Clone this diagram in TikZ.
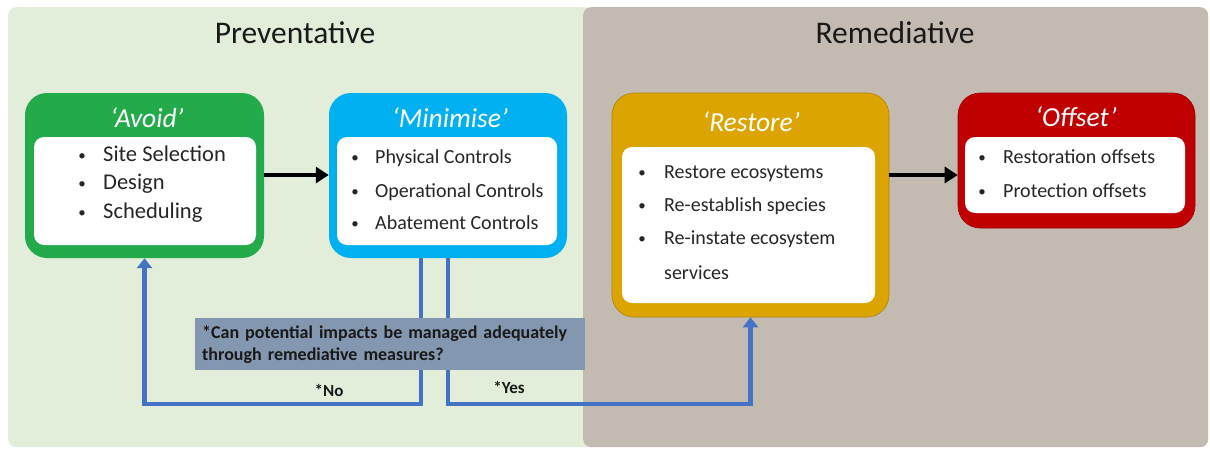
\documentclass[tikz,border=0pt]{standalone}
\usepackage{fontspec}
\setmainfont{Carlito}
\usetikzlibrary{arrows.meta,calc}
\definecolor{avoidc}{HTML}{22AA4B}
\definecolor{minc}{HTML}{00B0F0}
\definecolor{restc}{HTML}{DCA400}
\definecolor{offc}{HTML}{C00000}
\definecolor{prevbg}{HTML}{E2EEDA}
\definecolor{remebg}{HTML}{C3BAB1}
\definecolor{linec}{HTML}{4472C4}
\definecolor{qc}{HTML}{8497B0}
\definecolor{txt}{HTML}{262626}
\begin{document}
\begin{tikzpicture}[x=1pt,y=-1pt,
  panel/.style={rounded corners=8pt, inner sep=0pt, anchor=north west},
  paneltitle/.style={inner sep=0pt, font=\fontsize{31.5}{36}\selectfont, text=black!90},
  outerbox/.style={rounded corners=22pt, inner sep=0pt},
  innerbox/.style={fill=white, rounded corners=10pt, inner sep=0pt},
  boxtitle/.style={inner sep=0pt, text=white, font=\fontsize{27.5}{32}\selectfont\itshape},
  itm/.style={anchor=west, inner sep=0pt, text=txt, font=\fontsize{20}{24}\selectfont, text height=14pt, text depth=4pt},
  bigitm/.style={itm, font=\fontsize{22.5}{27}\selectfont, text height=15pt, text depth=4pt},
  bul/.style={inner sep=0pt, text=txt, font=\fontsize{15}{18}\selectfont, text height=11pt, text depth=3pt},
  blackarrow/.style={line width=4.5pt, -{Triangle[length=13pt,width=16pt]}},
  bluearrow/.style={draw=linec, line width=4.5pt, -{Triangle[length=10pt,width=15pt]}},
  qbox/.style={fill=qc, inner sep=7pt, text width=376pt, align=left, minimum height=52pt, font=\fontsize{18}{22}\selectfont\bfseries, text=black!90},
  lbl/.style={inner sep=0pt, font=\fontsize{17}{20}\selectfont\bfseries, text=black!90}
]
\useasboundingbox (0,0) rectangle (1210,450);
\fill[white] (0,0) rectangle (1210,450);
% panels
\node[panel, fill=prevbg, minimum width=585pt, minimum height=440pt] (prev) at (8,7) {};
\node[panel, fill=remebg, minimum width=625pt, minimum height=440pt] (reme) at (583,7) {};
\node[paneltitle] (prevt) at (295,33) {Preventative};
\node[paneltitle] (remet) at (895,33) {Remediative};
% Avoid
\node[outerbox, fill=avoidc, minimum width=239pt, minimum height=165pt] (avoid) at (144.5,175.5) {};
\node[innerbox, minimum width=222pt, minimum height=108pt] (avoidin) at (145,191) {};
\node[boxtitle] (avoidt) at (147,118) {‘Avoid’};
\node[bul] (ab1) at (82,156) {•};
\node[bul] (ab2) at (82,184) {•};
\node[bul] (ab3) at (82,213) {•};
\node[bigitm] (a1) at (103,156) {Site Selection};
\node[bigitm] (a2) at (103,184) {Design};
\node[bigitm] (a3) at (103,213) {Scheduling};
% Minimise
\node[outerbox, fill=minc, minimum width=238pt, minimum height=165pt] (minimise) at (448,175.5) {};
\node[innerbox, minimum width=220pt, minimum height=108pt] (minin) at (447,191) {};
\node[boxtitle] (mint) at (450,118) {‘Minimise’};
\node[bul] (mb1) at (355,158) {•};
\node[bul] (mb2) at (355,192) {•};
\node[bul] (mb3) at (355,224) {•};
\node[itm] (m1) at (375,158) {Physical Controls};
\node[itm] (m2) at (375,192) {Operational Controls};
\node[itm] (m3) at (375,224) {Abatement Controls};
% Restore
\node[outerbox, fill=restc, draw=restc!80!black, line width=0.6pt, minimum width=277pt, minimum height=224pt] (restore) at (750.5,205) {};
\node[innerbox, minimum width=253pt, minimum height=156pt] (restin) at (748.5,225) {};
\node[boxtitle] (restt) at (751,122) {‘Restore’};
\node[bul] (rb1) at (642,173) {•};
\node[bul] (rb2) at (642,206) {•};
\node[bul] (rb3) at (642,239) {•};
\node[itm] (r1) at (664,173) {Restore ecosystems};
\node[itm] (r2) at (664,206) {Re-establish species};
\node[itm] (r3) at (664,239) {Re-instate ecosystem};
\node[itm] (r4) at (664,274) {services};
% Offset
\node[outerbox, fill=offc, draw=offc!80!black, line width=0.6pt, minimum width=237pt, minimum height=135pt] (offset) at (1076.5,160.5) {};
\node[innerbox, minimum width=220pt, minimum height=76pt] (offin) at (1075,175) {};
\node[boxtitle] (offt) at (1076,117) {‘Offset’};
\node[bul] (ob1) at (982,158) {•};
\node[bul] (ob2) at (982,192) {•};
\node[itm] (o1) at (1003,158) {Restoration offsets};
\node[itm] (o2) at (1003,192) {Protection offsets};
% black arrows
\coordinate (arrowy) at (0,175);
\draw[blackarrow] (avoid.east |- arrowy) -- (minimise.west |- arrowy);
\draw[blackarrow] (restore.east |- arrowy) -- (offset.west |- arrowy);
% blue decision arrows
\coordinate (turny) at (0,404);
\draw[bluearrow] ([xshift=-27pt]minimise.south) |- (avoid.south |- turny) -- (avoid.south);
\draw[bluearrow] (minimise.south) |- (restore.south |- turny) -- (restore.south);
% question box
\node[qbox, anchor=north west] (q) at (195,318) {*Can potential impacts be managed adequately\\through remediative measures?};
\node[lbl] (no) at (329,390) {*No};
\node[lbl] (yes) at (509,387) {*Yes};
\end{tikzpicture}
\end{document}
